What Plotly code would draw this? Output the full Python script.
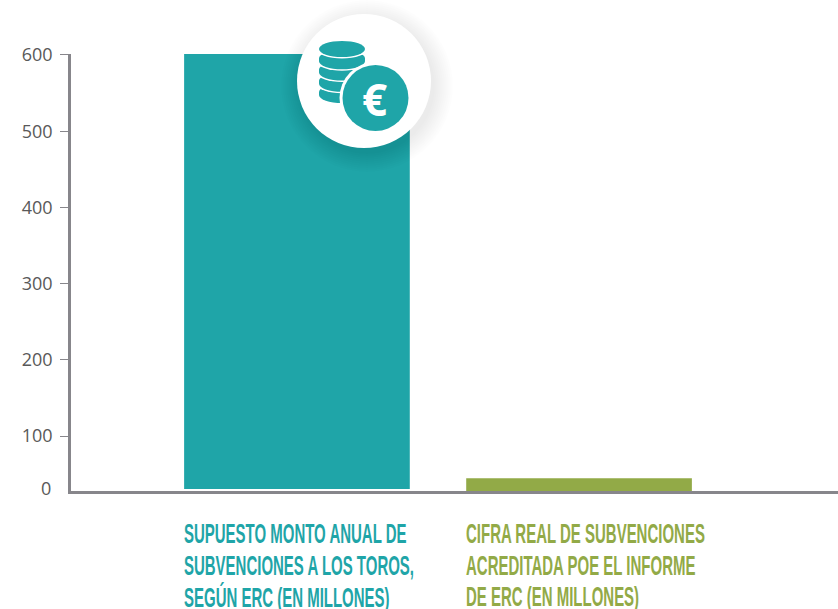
import plotly.graph_objects as go

W, H = 838, 609
L, R, T, B = 71, 0, 54, 118

category_lines = [["SUPUESTO MONTO ANUAL DE", "SUBVENCIONES A LOS TOROS,", "SEGÚN ERC (EN MILLONES)"],
                  ["CIFRA REAL DE SUBVENCIONES", "ACREDITADA POE EL INFORME", "DE ERC (EN MILLONES)"]]
x_pos = [0, 1]
values = [601.3, 44.6]
bases = [30.5, 28]
colors = ["#1FA5A8", "#92AA47"]
tick_vals = [100, 200, 300, 400, 500, 600]
tick_text = ["100", "200", "300", "400", "500", "600"]
y_range = [28, 601.3]
bar_width = 0.8
AXIS = "#87868B"
TEXT = "#595959"
TEAL = colors[0]

fig = go.Figure(go.Bar(x=x_pos, y=[v - b for v, b in zip(values, bases)], base=bases,
                       width=bar_width, marker=dict(color=colors, line=dict(width=0)),
                       cliponaxis=False, hoverinfo="skip"))

px = lambda x: (x - L) / (W - L - R)
py = lambda y: 1 - (y - T) / (H - T - B)


def circle(cx, cy, rx, ry, color, opacity=1.0):
    return dict(type="circle", xref="paper", yref="paper",
                x0=px(cx - rx), x1=px(cx + rx), y0=py(cy + ry), y1=py(cy - ry),
                fillcolor=color, opacity=opacity, line=dict(width=0), layer="above")


def rect(x0, x1, y0, y1, color):
    return dict(type="rect", xref="paper", yref="paper",
                x0=px(x0), x1=px(x1), y0=py(y1), y1=py(y0),
                fillcolor=color, line=dict(width=0), layer="above")


shapes = []
# soft shadow of the badge
for r in range(86, 66, -2):
    shapes.append(circle(367, 86, r, r, "#000000", 0.007))
shapes.append(circle(364, 81, 67, 67, "#FFFFFF"))
# coin stack, bottom to top
for k, cy in enumerate([92, 80.75, 69.5, 58.25]):
    if k > 0:
        shapes.append(circle(342, cy + 3, 25, 9.5, "#FFFFFF"))
    shapes.append(rect(319, 365, cy, cy + 3, TEAL))
    shapes.append(circle(342, cy + 3, 23, 8, TEAL))
    shapes.append(circle(342, cy, 23, 8, TEAL))
shapes.append(circle(342, 49, 25, 9.5, "#FFFFFF"))
shapes.append(circle(342, 49, 23, 8, TEAL))
# euro coin
shapes.append(circle(375.5, 98, 36, 36, "#FFFFFF"))
shapes.append(circle(375.5, 98, 33, 33, TEAL))

annotations = [dict(text="0", xref="paper", yref="paper", x=px(53), y=py(488), xanchor="right",
                    yanchor="middle", showarrow=False, font=dict(family="Open Sans", size=18, color=TEXT)),
               dict(text="<b>€</b>", xref="paper", yref="paper", x=px(374), y=py(99), xanchor="center",
                    yanchor="middle", showarrow=False, font=dict(family="Open Sans", size=44, color="#FFFFFF"))]
for xp, lines, col in zip(x_pos, category_lines, colors):
    for i, line in enumerate(lines):
        annotations.append(dict(text=f"<b>{line}</b>", xref="x", yref="paper", x=xp - bar_width / 2,
                                y=py(534 + 31.5 * i), xanchor="left", yanchor="middle", align="left",
                                showarrow=False, xshift=-2,
                                font=dict(family="Liberation Sans", size=27, color=col)))

fig.update_layout(
    width=W, height=H, margin=dict(l=L, r=R, t=T, b=B, pad=0, autoexpand=False),
    paper_bgcolor="white", plot_bgcolor="white", showlegend=False,
    shapes=shapes, annotations=annotations,
    xaxis=dict(range=[-0.801, 1.918], showgrid=False, zeroline=False, showticklabels=False,
               ticks="", showline=True, linecolor=AXIS, linewidth=2.5),
    yaxis=dict(range=y_range, tickmode="array", tickvals=tick_vals, ticktext=tick_text,
               showgrid=False, zeroline=False, showline=True, linecolor=AXIS, linewidth=2.5,
               ticks="outside", ticklen=8, tickwidth=1, tickcolor=AXIS, ticklabelstandoff=4,
               tickfont=dict(family="Open Sans", size=18, color=TEXT)),
)

post = """
document.body.style.margin = '0';
document.querySelectorAll('.annotation-text').forEach(function (t) {
  if (!t.style.fontFamily.includes('Liberation')) return;
  var x0 = t.getBBox().x, s = 0.555;
  t.setAttribute('transform', 'translate(' + x0 + ',0) scale(' + s + ',1) translate(' + (-x0) + ',0)');
});
"""
fig.write_html("out.html", config={"displayModeBar": False}, post_script=post)
